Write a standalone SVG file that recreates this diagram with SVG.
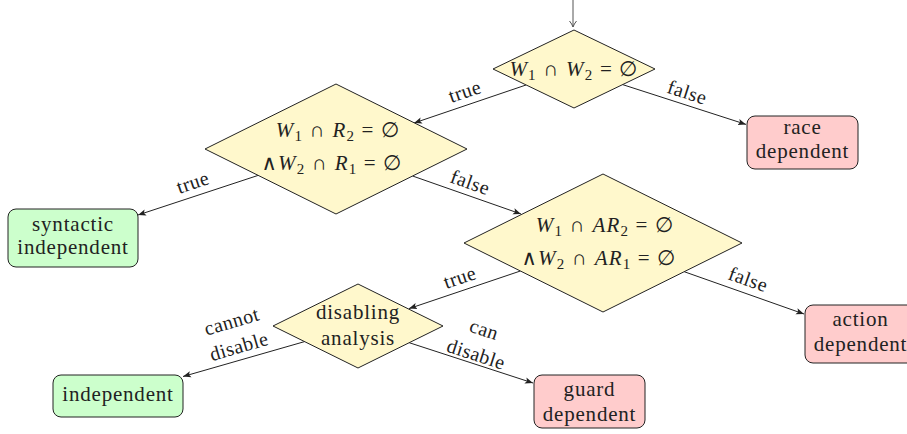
<svg xmlns="http://www.w3.org/2000/svg" width="907" height="434" viewBox="0 0 907 434">
<style>
text{fill:#222;text-anchor:middle}
.n{font-size:21px;letter-spacing:0.8px}
.l{font-size:20px;letter-spacing:0.5px}
.m{font-size:21px;letter-spacing:1.2px}
.i{font-style:italic}
.dia{fill:#fff8cc;stroke:#222;stroke-width:1}
.red{fill:#ffcccc;stroke:#222;stroke-width:1}
.grn{fill:#ccffcc;stroke:#222;stroke-width:1}
.e{stroke:#222;stroke-width:1;fill:none;marker-end:url(#ah)}
</style>
<defs>
<marker id="ah" markerUnits="userSpaceOnUse" markerWidth="10" markerHeight="8" refX="8" refY="4" orient="auto">
<path d="M0,0.8 L8,4 L0,7.2 L1.8,4 Z" fill="#222"/>
</marker>
<marker id="to" markerUnits="userSpaceOnUse" markerWidth="10" markerHeight="10" refX="7" refY="5" orient="auto">
<path d="M1,1.5 Q4,4 7,5 Q4,6 1,8.5" fill="none" stroke="#555" stroke-width="1"/>
</marker>
</defs>
<g font-family="Liberation Serif, DejaVu Serif, serif">
<g id="connectors">
<line x1="573" y1="0" x2="573" y2="27" stroke="#555" stroke-width="1" marker-end="url(#to)"/>
<line class="e" x1="526" y1="85" x2="414" y2="123"/>
<line class="e" x1="622.6" y1="84.6" x2="746" y2="124.4"/>
<line class="e" x1="258.1" y1="175.4" x2="138" y2="215"/>
<line class="e" x1="412.6" y1="176" x2="521" y2="214"/>
<line class="e" x1="520.4" y1="271" x2="409" y2="308.6"/>
<line class="e" x1="684.2" y1="271.7" x2="804" y2="314"/>
<line class="e" x1="304.6" y1="341.6" x2="183" y2="376.5"/>
<line class="e" x1="409.2" y1="342.7" x2="533" y2="383"/>
<g transform="translate(465,92) rotate(-18.7)"><text class="l" x="0" y="6">true</text></g>
<g transform="translate(687,93) rotate(17.8)"><text class="l" x="0" y="6">false</text></g>
<g transform="translate(193,183) rotate(-18.7)"><text class="l" x="0" y="6">true</text></g>
<g transform="translate(470,183) rotate(19.4)"><text class="l" x="0" y="6">false</text></g>
<g transform="translate(460,278) rotate(-18.7)"><text class="l" x="0" y="6">true</text></g>
<g transform="translate(748,280) rotate(19.5)"><text class="l" x="0" y="6">false</text></g>
<g transform="translate(235.5,334.5) rotate(-16.3)"><text class="l" x="0" y="-7">cannot</text><text class="l" x="0" y="19">disable</text></g>
<g transform="translate(480,342.5) rotate(18)"><text class="l" x="0" y="-7">can</text><text class="l" x="0" y="19">disable</text></g>
</g>

<g id="d1">
<polygon class="dia" points="574,30 655,69 574,108 493,69"/>
<text class="m" x="574" y="76"><tspan class="i">W</tspan><tspan font-size="15" dy="4">1</tspan><tspan dy="-4"> ∩ </tspan><tspan class="i">W</tspan><tspan font-size="15" dy="4">2</tspan><tspan dy="-4"> = ∅</tspan></text>
</g>

<g id="d2">
<polygon class="dia" points="336,84 467,149 336,214 205,149"/>
<text class="m" x="338" y="137"><tspan class="i">W</tspan><tspan font-size="15" dy="4">1</tspan><tspan dy="-4"> ∩ </tspan><tspan class="i">R</tspan><tspan font-size="15" dy="4">2</tspan><tspan dy="-4"> = ∅</tspan></text>
<text class="m" x="332" y="170">∧<tspan class="i">W</tspan><tspan font-size="15" dy="4">2</tspan><tspan dy="-4"> ∩ </tspan><tspan class="i">R</tspan><tspan font-size="15" dy="4">1</tspan><tspan dy="-4"> = ∅</tspan></text>
</g>

<g id="d3">
<polygon class="dia" points="603,174 742,243 603,312 464,243"/>
<text class="m" x="605" y="232"><tspan class="i">W</tspan><tspan font-size="15" dy="4">1</tspan><tspan dy="-4"> ∩ </tspan><tspan class="i">AR</tspan><tspan font-size="15" dy="4">2</tspan><tspan dy="-4"> = ∅</tspan></text>
<text class="m" x="599" y="265">∧<tspan class="i">W</tspan><tspan font-size="15" dy="4">2</tspan><tspan dy="-4"> ∩ </tspan><tspan class="i">AR</tspan><tspan font-size="15" dy="4">1</tspan><tspan dy="-4"> = ∅</tspan></text>
</g>

<g id="d4">
<polygon class="dia" points="358,284 443,326 358,368 273,326"/>
<text class="n" x="358" y="319">disabling</text>
<text class="n" x="358" y="345">analysis</text>
</g>

<g id="race">
<rect class="red" x="747" y="116" width="111" height="53" rx="8"/>
<text class="n" x="802.5" y="134">race</text>
<text class="n" x="802.5" y="158">dependent</text>
</g>

<g id="syntactic">
<rect class="grn" x="8" y="209" width="130" height="58" rx="8"/>
<text class="n" x="73" y="231">syntactic</text>
<text class="n" x="73" y="254">independent</text>
</g>

<g id="action">
<rect class="red" x="805" y="305" width="111" height="58" rx="8"/>
<text class="n" x="860.5" y="326">action</text>
<text class="n" x="860.5" y="351">dependent</text>
</g>

<g id="independent">
<rect class="grn" x="53" y="375" width="130" height="42" rx="8"/>
<text class="n" x="118" y="401">independent</text>
</g>

<g id="guard">
<rect class="red" x="534" y="375" width="111" height="53" rx="8"/>
<text class="n" x="589.5" y="396">guard</text>
<text class="n" x="589.5" y="421">dependent</text>
</g>
</g>
</svg>
